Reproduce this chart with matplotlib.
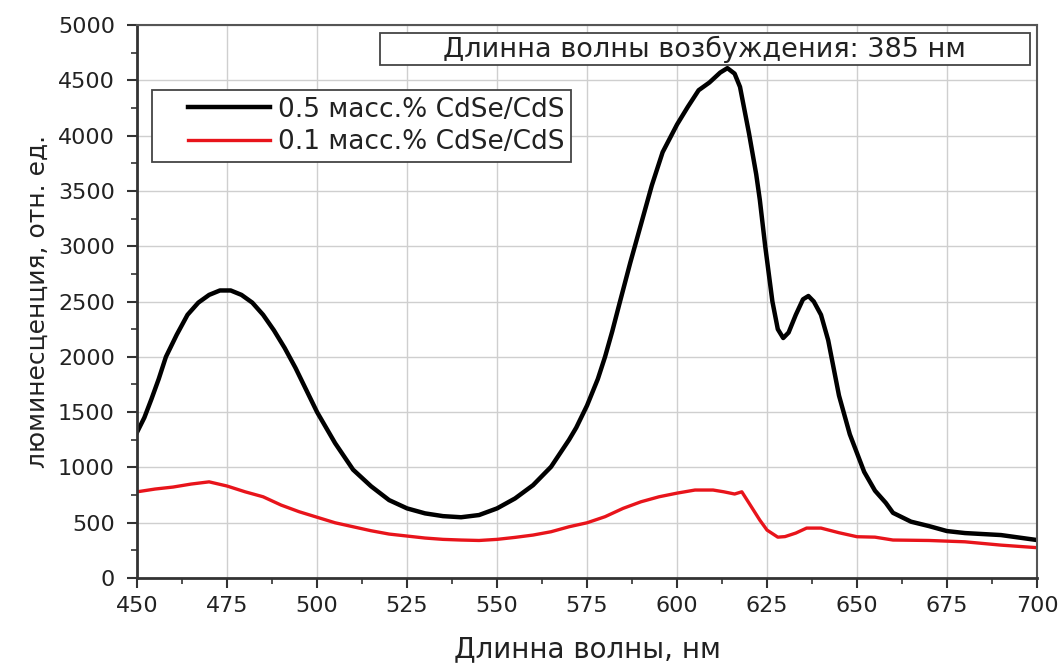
import numpy as np
import matplotlib.pyplot as plt
from matplotlib.lines import Line2D
from matplotlib.legend_handler import HandlerLine2D
from matplotlib.patches import Rectangle

plt.rcParams['font.family'] = ['DejaVu Sans']

# 0.5 mass.% CdSe/CdS
wl_black = [450, 452, 454, 456, 458, 461, 464, 467, 470, 473, 476, 479, 482, 485,
            488, 491, 494, 497, 500, 505, 510, 515, 520, 525, 530, 535, 540, 545,
            550, 555, 560, 565, 570, 572, 575, 578, 580, 582, 584, 587, 590, 593,
            596, 600, 603, 606, 609, 612, 614, 616, 617.5, 620, 622, 623, 624.5,
            626.5, 628, 629.5, 631, 633, 635, 636.5, 638, 640, 642, 645, 648, 650,
            652, 655, 658, 660, 665, 670, 675, 680, 690, 700]
lum_black = [1320, 1450, 1620, 1800, 2000, 2200, 2380, 2490, 2560, 2600, 2600, 2560,
             2490, 2380, 2240, 2080, 1900, 1700, 1500, 1220, 980, 830, 705, 630,
             585, 560, 550, 570, 630, 720, 840, 1006, 1250, 1360, 1560, 1800, 2000,
             2230, 2480, 2850, 3200, 3550, 3850, 4100, 4260, 4410, 4480, 4570, 4610,
             4560, 4440, 4020, 3650, 3420, 3000, 2500, 2250, 2170, 2220, 2380, 2520,
             2550, 2500, 2380, 2150, 1650, 1300, 1130, 960, 790, 680, 590, 510, 470,
             425, 407, 389, 344]

# 0.1 mass.% CdSe/CdS
wl_red = [450, 455, 460, 465, 470, 475, 480, 485, 490, 495, 500, 505, 510, 515, 520,
          525, 530, 535, 540, 545, 550, 555, 560, 565, 570, 575, 580, 585, 590, 595,
          600, 605, 610, 613, 616, 618, 620, 623, 625, 628, 630, 633, 636, 640, 645,
          650, 655, 660, 670, 680, 690, 700]
lum_red = [780, 805, 823, 850, 870, 832, 780, 735, 660, 600, 550, 500, 464, 428, 398,
           380, 362, 350, 344, 340, 350, 368, 389, 419, 464, 500, 555, 630, 690, 735,
           768, 796, 796, 780, 760, 780, 678, 524, 434, 370, 375, 407, 452, 452, 410,
           374, 370, 344, 340, 328, 298, 275]

fig = plt.figure(figsize=(10.63, 6.66), dpi=100)
ax = fig.add_axes([0.129, 0.132, 0.8465, 0.8305])

ax.plot(wl_black, lum_black, color='black', lw=3.2, label='0.5 масс.% CdSe/CdS')
ax.plot(wl_red, lum_red, color='#e8141b', lw=2.4, label='0.1 масс.% CdSe/CdS')

ax.set_xlim(450, 700)
ax.set_ylim(0, 5000)
ax.set_xticks(np.arange(450, 701, 25))
ax.set_yticks(np.arange(0, 5001, 500))
ax.set_xticks(np.arange(462.5, 700, 25), minor=True)
ax.set_yticks(np.arange(250, 5000, 500), minor=True)
ax.tick_params(which='major', direction='out', length=7, width=1.5, labelsize=16,
               colors='#333333', labelcolor='#222222')
ax.tick_params(axis='y', which='major', pad=9)
ax.tick_params(axis='x', which='major', pad=6)
ax.tick_params(which='minor', direction='out', length=4, width=1.2, colors='#333333')
ax.grid(True, which='major', color='#cfcfcf', lw=1)
ax.set_axisbelow(True)

for side in ['left', 'bottom']:
    ax.spines[side].set_linewidth(2)
    ax.spines[side].set_color('#333333')
for side in ['top', 'right']:
    ax.spines[side].set_linewidth(1.5)
    ax.spines[side].set_color('#555555')

ax.set_xlabel('Длинна волны, нм', fontsize=20, color='#222222', labelpad=14)
ax.set_ylabel('люминесценция, отн. ед.', fontsize=18, color='#222222', labelpad=6)

# excitation wavelength box
ax.add_patch(Rectangle((0.27, 0.9277), 0.722, 0.0578, transform=ax.transAxes,
                       fc='white', ec='#444444', lw=1.3, zorder=5))
ax.text(0.631, 0.9566, 'Длинна волны возбуждения: 385 нм', transform=ax.transAxes,
        ha='center', va='center', fontsize=19.5, color='#222222', zorder=6)

leg = ax.legend(loc='upper left', bbox_to_anchor=(0.0167, 0.8825), borderaxespad=0,
                fontsize=19, frameon=True, fancybox=False, edgecolor='#444444',
                framealpha=1, handlelength=4.2, handletextpad=0.3, borderpad=0.25,
                labelspacing=0.25, handler_map={Line2D: HandlerLine2D(xpad=1.1)})
leg.get_frame().set_linewidth(1.3)
for t in leg.get_texts():
    t.set_color('#222222')

fig.savefig('out.png', dpi=100)
